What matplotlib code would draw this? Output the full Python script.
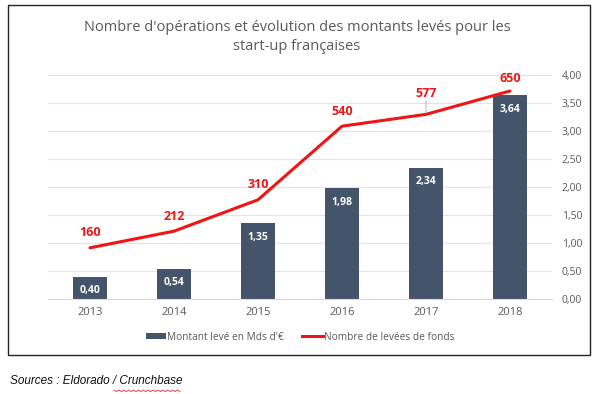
import numpy as np
import matplotlib.pyplot as plt
from matplotlib.patches import Rectangle, Patch
from matplotlib.lines import Line2D

# data
years = ['2013', '2014', '2015', '2016', '2017', '2018']
montants = [0.40, 0.54, 1.35, 1.98, 2.34, 3.64]      # Mds d'euros (right axis)
nb_levees = [160, 212, 310, 540, 577, 650]           # hidden left axis
right_ticks = [0, 0.5, 1.0, 1.5, 2.0, 2.5, 3.0, 3.5, 4.0]

bar_col = '#44546A'
red = '#F01414'
grey = '#595959'
txt_font = 'Open Sans'

fig = plt.figure(figsize=(6, 3.94), dpi=100)
W, H = 600, 394

# outer frame
fig.patches.append(Rectangle((8 / W, 1 - 355 / H), 582 / W, 350 / H,
                             transform=fig.transFigure, fill=False,
                             edgecolor='#222222', lw=1.0))

ax = fig.add_axes([48 / W, 1 - 299 / H, 504 / W, 224 / H])
# line sits on a hidden primary axis
ax2 = ax.twinx()

x = np.arange(len(years))
bars = ax.bar(x, montants, width=0.4, color=bar_col, zorder=2)
ax.set_xlim(-0.5, len(years) - 0.5)
ax.set_ylim(0, 4)
ax.yaxis.tick_right()
ax.set_yticks(right_ticks)
ax.set_yticklabels([f"{v:.2f}".replace('.', ',') for v in right_ticks],
                   fontsize=7.5, color=grey, fontfamily=txt_font)
ax.set_xticks(x)
ax.set_xticklabels(years, fontsize=8, color=grey, fontfamily=txt_font)
ax.tick_params(length=0)
ax.tick_params(axis='y', pad=7)
ax.tick_params(axis='x', pad=6)
ax.yaxis.grid(True, color='#E3E3E3', lw=0.8)
ax.set_axisbelow(True)
for s in ['top', 'left', 'right']:
    ax.spines[s].set_visible(False)
ax.spines['bottom'].set_color('#D9D9D9')

for b, v in zip(bars, montants):
    ax.annotate(f"{v:.2f}".replace('.', ','), (b.get_x() + b.get_width() / 2, v),
                xytext=(0, -10), textcoords='offset points', ha='center', va='center',
                color='white', fontsize=7.5, fontweight='bold', fontfamily=txt_font)

ax2.set_ylim(0, 700)
ax2.plot(x, nb_levees, color=red, lw=2.2, solid_capstyle='round')
ax2.set_yticks([])
ax2.tick_params(length=0)
for s in ax2.spines.values():
    s.set_visible(False)
offsets = [6, 6, 6, 6, 10, 4]
for xi, v, o in zip(x, nb_levees, offsets):
    ax2.annotate(str(v), (xi, v), xytext=(0, o), textcoords='offset points',
                 ha='center', va='bottom', color=red, fontsize=9,
                 fontweight='bold', fontfamily=txt_font)
# little leader line for 577
ax2.annotate('', (x[4], nb_levees[4]), xytext=(0, 10), textcoords='offset points',
             arrowprops=dict(arrowstyle='-', color='#A6A6A6', lw=0.6,
                             shrinkA=0, shrinkB=1))

# title
fig.text(297 / W, 1 - 37 / H,
         "Nombre d'opérations et évolution des montants levés pour les\nstart-up françaises",
         ha='center', va='center', fontsize=10.5, color=grey, fontfamily=txt_font,
         linespacing=1.45)

# legend
handles = [Patch(facecolor=bar_col, edgecolor='none', label="Montant levé en Mds d'€"),
           Line2D([], [], color=red, lw=2.2, label='Nombre de levées de fonds')]
leg = fig.legend(handles=handles, loc='center', bbox_to_anchor=(300 / W, 1 - 337 / H),
                 ncol=2, frameon=False, handlelength=2.0, handleheight=0.5,
                 handletextpad=0.1, columnspacing=1.8,
                 prop={'family': txt_font, 'size': 7.3})
for t in leg.get_texts():
    t.set_color(grey)

# source line
fig.text(10 / W, 1 - 381 / H, "Sources : Eldorado / Crunchbase", ha='left', va='center',
         fontsize=8.5, style='italic', color='#111111', fontfamily='Liberation Sans')
# spell-check squiggle under "Crunchbase"
zx = np.linspace(114, 180, 28)
zy = 390 + np.where(np.arange(28) % 2 == 0, 0, 1.6)
fig.add_artist(Line2D(zx / W, 1 - zy / H, transform=fig.transFigure, color='#E03030', lw=0.6))

fig.savefig('out.png', dpi=100)
